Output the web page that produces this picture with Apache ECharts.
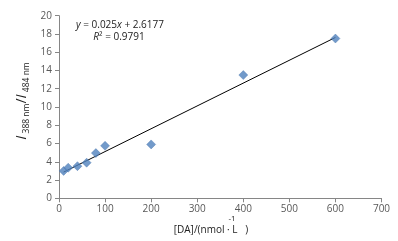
<!DOCTYPE html>
<html><head><meta charset="utf-8">
<script src="https://cdn.jsdelivr.net/npm/echarts@6/dist/echarts.min.js"></script>
<style>html,body{margin:0;padding:0;background:#fff}#c{width:398px;height:241px}</style>
</head><body><div id="c"></div>
<script>
const concentrations = [10, 20, 40, 60, 80, 100, 200, 400, 600];
const ratios = [3.0, 3.35, 3.52, 3.9, 4.95, 5.75, 5.9, 13.5, 17.5];
const xTicks = [0, 100, 200, 300, 400, 500, 600, 700];
const yTicks = [0, 2, 4, 6, 8, 10, 12, 14, 16, 18, 20];
const slope = 0.025, intercept = 2.6177;
const trendX = [10, 600];

const chart = echarts.init(document.getElementById('c'));
const tickColor = '#595959', axisColor = '#868686';
chart.setOption({
  animation: false,
  grid: {left: 59, right: 16.5, top: 15.7, bottom: 42.7},
  xAxis: {type: 'value', min: 0, max: 700, interval: 100,
    axisLine: {show: true, lineStyle: {color: axisColor}},
    axisTick: {show: true, length: 4, lineStyle: {color: axisColor}},
    axisLabel: {color: tickColor, fontSize: 10, fontFamily: 'Open Sans', margin: 6},
    splitLine: {show: false}},
  yAxis: {type: 'value', min: 0, max: 20, interval: 2,
    axisLine: {show: true, lineStyle: {color: axisColor}},
    axisTick: {show: true, length: 4, lineStyle: {color: axisColor}},
    axisLabel: {color: tickColor, fontSize: 10, fontFamily: 'Open Sans', margin: 7},
    splitLine: {show: false}},
  series: [
    {type: 'line', data: trendX.map(x => [x, slope * x + intercept]), symbol: 'none',
     lineStyle: {color: '#000', width: 1}, z: 1},
    {type: 'scatter', data: concentrations.map((c, i) => [c, ratios[i]]), symbol: 'diamond',
     symbolSize: 9, itemStyle: {color: '#4F81BD', borderColor: '#4a75ad', borderWidth: 0.5}, z: 2}
  ],
  graphic: [
    {type: 'text', x: 120, y: 25, style: {
      text: '{i|y} = 0.025{i|x} + 2.6177', rich: {i: {fontStyle: 'italic', fontSize: 10, fontFamily: 'Open Sans', fill: '#222'}},
      fontSize: 10, fontFamily: 'Open Sans', fill: '#222', align: 'center', verticalAlign: 'middle'}},
    {type: 'text', x: 119, y: 37, style: {
      text: '{i|R}² = 0.9791', rich: {i: {fontStyle: 'italic', fontSize: 10, fontFamily: 'Open Sans', fill: '#222'}},
      fontSize: 10, fontFamily: 'Open Sans', fill: '#222', align: 'center', verticalAlign: 'middle'}},
    {type: 'text', x: 22, y: 101, rotation: Math.PI / 2, style: {
      text: '{i|I}{s| 388 nm}{n|/}{i|I}{s| 484 nm}',
      rich: {
        i: {fontStyle: 'italic', fontSize: 15, fontFamily: 'Open Sans', fill: '#222', lineHeight: 18},
        n: {fontSize: 14, fontFamily: 'Open Sans', fill: '#222', lineHeight: 18},
        s: {fontSize: 8.5, fontFamily: 'Open Sans', fill: '#222', lineHeight: 18, padding: [10, 0, 0, 0]}
      },
      align: 'center', verticalAlign: 'middle'}},
    {type: 'text', x: 211, y: 230, style: {
      text: '[DA]/(nmol · L   )', fontSize: 10, fontFamily: 'Open Sans', fill: '#222', align: 'center', verticalAlign: 'middle'}},
    {type: 'text', x: 232, y: 219, style: {
      text: '-1', fontSize: 8, fontFamily: 'Open Sans', fill: '#222', align: 'center', verticalAlign: 'middle'}}
  ]
});
</script></body></html>
